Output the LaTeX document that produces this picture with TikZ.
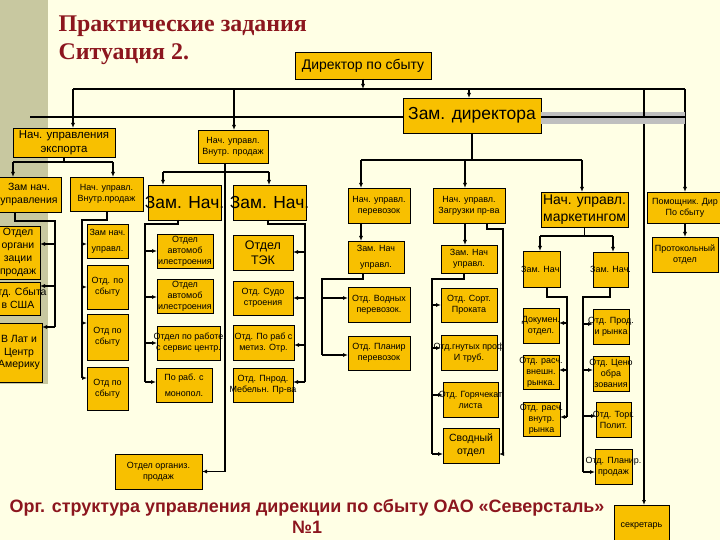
\documentclass[tikz,border=0pt]{standalone}
\usepackage{fontspec}
\setmainfont{Liberation Sans}
\newfontfamily\titlefont{Liberation Serif}
\usetikzlibrary{arrows.meta}

\definecolor{gold}{RGB}{248,192,0}
\definecolor{cream}{RGB}{255,255,229}
\definecolor{olive}{RGB}{200,200,160}
\definecolor{wine}{RGB}{140,22,30}

% box from corner (x1,y1) to (x2,y2), text in the middle
\newcommand\orgbox[7][]{%
  \node[unit,minimum width={(#5-(#3))*1bp},minimum height={(#6-(#4))*1bp}]
    (#2) at ({(#3+#5)/2},{(#4+#6)/2}) {};
  \node[txt,#1] (#2-t) at (#2) {#7};}

\begin{document}
\begin{tikzpicture}
  [x=1bp,y=-1bp,line width=1.1bp,
   unit/.style={draw,fill=gold,line width=.7bp,inner sep=0pt,outer sep=0pt},
   txt/.style={align=center,inner sep=0pt,font=\fontsize{9}{11}\selectfont},
   f10/.style={font=\fontsize{10.5}{13}\selectfont},
   f11/.style={font=\fontsize{11.5}{14}\selectfont},
   f12/.style={font=\fontsize{12.5}{15}\selectfont},
   f14/.style={font=\fontsize{14}{17}\selectfont},
   f17/.style={font=\fontsize{17.5}{20}\selectfont},
   ttl/.style={inner sep=0pt,text=wine,font=\titlefont\bfseries\fontsize{24}{30}\selectfont},
   capt/.style={inner sep=0pt,text=wine,font=\bfseries\fontsize{18}{21}\selectfont},
   arr/.style={-{Latex[length=5bp,width=4bp]}}]

  \useasboundingbox (0,0) rectangle (720,540);
  \clip (0,0) rectangle (720,540);
  \fill[cream] (0,0) rectangle (720,540);
  \fill[olive] (0,0) rectangle (48,384);

  \node[ttl,anchor=base west] (t1) at (58,32) {Практические задания};
  \node[ttl,anchor=base west] (t2) at (58,60) {Ситуация 2.};

  % top level
  \orgbox[f14]{dir}{295}{52}{431}{79}{Директор по сбыту}
  \orgbox[f17]{zd}{403}{98}{541}{133}{Зам. директора}
  \orgbox[f11]{exp}{13}{128}{115}{157}{Нач. управления\\экспорта}
  \orgbox{nvp}{198}{130}{268}{163}{Нач. управл.\\Внутр. продаж}
  \orgbox{per}{348}{188}{410}{223}{Нач. управл.\\перевозок}
  \orgbox{zag}{433}{188}{505}{223}{Нач. управл.\\Загрузки пр-ва}
  \orgbox[f14]{mkt}{541}{192}{628}{227}{Нач. управл.\\маркетингом}
  \orgbox{pom}{647}{192}{723}{223}{Помощник. Дир\\По сбыту}
  \orgbox{prot}{652}{237}{718}{272}{Протокольный\\отдел}
  \orgbox{sec}{614}{505}{669}{548}{секретарь}

  % export
  \orgbox[f10]{zamL}{-3}{177}{61}{212}{Зам нач.\\управления}
  \orgbox[f10]{org1}{-4}{226}{40}{279}{Отдел\\органи\\зации\\продаж}
  \orgbox[f10]{sb}{-4}{282}{40}{315}{Отд. Сбыта\\в США}
  \orgbox[f10]{la}{-4}{323}{42}{382}{В Лат и\\Центр\\Америку}
  \orgbox{nvp2}{70}{177}{143}{211}{Нач. управл.\\Внутр.продаж}
  \orgbox{zn0}{87}{224}{128}{258}{Зам нач.\\[5bp]управл.}
  \orgbox{s1}{87}{265}{128}{309}{Отд. по\\сбыту}
  \orgbox{s2}{87}{314}{128}{360}{Отд по\\сбыту}
  \orgbox{s3}{87}{367}{128}{410}{Отд по\\сбыту}

  % internal sales
  \orgbox[f17]{zn1}{148}{185}{221}{220}{Зам. Нач.}
  \orgbox[f17]{zn2}{233}{185}{306}{220}{Зам. Нач.}
  \orgbox{a1}{157}{234}{213}{268}{Отдел\\автомоб\\илестроения}
  \orgbox{a2}{157}{279}{213}{313}{Отдел\\автомоб\\илестроения}
  \orgbox{a3}{157}{326}{220}{360}{Отдел по работе\\с сервис центр.}
  \orgbox{a4}{156}{368}{212}{402}{По раб. с\\[5bp]монопол.}
  \orgbox[f12]{t1}{233}{235}{293}{270}{Отдел\\ТЭК}
  \orgbox{t2}{233}{281}{293}{315}{Отд. Судо\\строения}
  \orgbox{t3}{233}{325}{294}{360}{Отд. По раб с\\метиз. Отр.}
  \orgbox{t4}{233}{368}{293}{402}{Отд. Пнрод.\\Мебельн. Пр-ва}
  \orgbox{org2}{115}{454}{202}{489}{Отдел организ.\\продаж}

  % transport
  \orgbox{pz}{348}{241}{404}{273}{Зам. Нач\\[5bp]управл.}
  \orgbox{pw}{348}{287}{410}{322}{Отд. Водных\\перевозок.}
  \orgbox{pp}{348}{336}{410}{370}{Отд. Планир\\перевозок}

  % loading
  \orgbox{gz}{441}{245}{497}{273}{Зам. Нач\\управл.}
  \orgbox{g1}{441}{288}{497}{322}{Отд. Сорт.\\Проката}
  \orgbox{g2}{441}{335}{497}{370}{Отд.гнутых проф\\И труб.}
  \orgbox{g3}{443}{382}{498}{417}{Отд. Горячекат\\листа}
  \orgbox[f10]{g4}{443}{428}{499}{463}{Сводный\\отдел}

  % marketing
  \orgbox{mz1}{523}{251}{560}{287}{Зам. Нач.}
  \orgbox{mz2}{593}{252}{628}{287}{Зам. Нач.}
  \orgbox{m1}{523}{308}{559}{343}{Докумен.\\отдел.}
  \orgbox{m2}{523}{355}{559}{389}{Отд. расч.\\внешн.\\рынка.}
  \orgbox{m3}{523}{402}{560}{436}{Отд. расч.\\внутр.\\рынка}
  \orgbox{m4}{593}{309}{629}{344}{Отд. Прод.\\и рынка}
  \orgbox{m5}{593}{356}{629}{391}{Отд. Цено\\обра\\зования}
  \orgbox{m6}{596}{402}{631}{437}{Отд. Торг.\\Полит.}
  \orgbox{m7}{595}{449}{632}{484}{Отд. Планир.\\продаж}

  \node[capt,anchor=base] (c1) at (307,512)
    {Орг. структура управления дирекции по сбыту ОАО «Северсталь»};
  \node[capt,anchor=base] (c2) at (307,533) {№1};

  % director lines
  \coordinate (dbus) at (73,89);
  \coordinate (dend) at (685,89);
  \draw[line width=1.4bp] (dbus) -- (dend);
  \draw[arr] (dir.south) -- (dir.south |- dbus);
  \foreach \x/\n in {73/exp,234/nvp,469/zd}
    \draw[arr] (dbus -| \x,0) -- (\n.north -| \x,0);
  \draw[arr,line width=1.6bp] (dbus -| 644,0) -- (sec.north -| 644,0);
  \draw[arr,line width=1.6bp] (dend) -- (pom.north);
  \draw[arr] (pom.south) -- (prot.north);

  \coordinate (zbus) at (30,117);
  \coordinate (zend) at (685,117);
  \draw[line width=12bp,gray!50] (zd.east |- 0,118) -- (zend |- 0,118);
  \draw[line width=2.6bp] (zbus) -- (zd.west |- zbus);
  \draw[line width=2.6bp] (zd.east |- zend) -- (zend);
  \draw[line width=1.6bp] (dbus -| 644,0) -- (zend -| 644,0);

  \coordinate (zbus2) at (361,160);
  \draw (zd.south) -- (zd.south |- zbus2);
  \draw (zbus2) -- (zbus2 -| 582,0);
  \foreach \x/\n in {361/per,465/zag,582/mkt}
    \draw[arr] (zbus2 -| \x,0) -- (\n.north -| \x,0);

  % internal sales lines
  \coordinate (vbus) at (163,172);
  \draw (vbus) -- (vbus -| 269,0);
  \draw[arr,line width=1.6bp] (nvp.south -| 225,0) |- (org2.east);
  \draw[arr] (vbus) -- (zn1.north -| vbus);
  \draw[arr] (vbus -| 269,0) -- (zn2.north -| 269,0);

  \coordinate (abus) at (145,224);
  \draw (zn1.south -| 178,0) |- (abus) -- (abus |- 0,382);
  \foreach \n/\y in {a1/251,a2/297,a3/343,a4/382}
    \draw[arr] (abus |- 0,\y) -- (\n.west |- 0,\y);

  \coordinate (tbus) at (305,224);
  \draw (zn2.south -| 268,0) |- (tbus) -- (tbus |- 0,382);
  \foreach \n/\y in {t1/252,t2/298,t3/345,t4/382}
    \draw[arr] (tbus |- 0,\y) -- (\n.east |- 0,\y);

  % export lines
  \coordinate (ebus) at (13,162);
  \draw (exp.south) -- (exp.south |- ebus);
  \draw (ebus) -- (ebus -| 113,0);
  \draw[arr] (ebus) -- (zamL.north -| ebus);
  \draw[arr] (ebus -| 113,0) -- (nvp2.north -| 113,0);

  \coordinate (lbus) at (55,221);
  \draw (zamL.south -| 15,0) |- (lbus) -- (lbus |- 0,327);
  \foreach \n/\y in {org1/244,sb/286,la/327}
    \draw[arr] (lbus |- 0,\y) -- (\n.east |- 0,\y);

  \coordinate (sbus) at (82,220);
  \draw (nvp2.south -| 107,0) |- (sbus) -- (sbus |- 0,378);
  \foreach \n/\y in {zn0/244,s1/287,s2/323,s3/378}
    \draw[arr] (sbus |- 0,\y) -- (\n.west |- 0,\y);

  % transport lines
  \draw[arr] (per.south -| 361,0) -- (pz.north -| 361,0);
  \coordinate (pbus) at (322,279);
  \draw (pz.south -| 363,0) |- (pbus) -- (pbus |- 0,355);
  \foreach \n/\y in {pw/298,pp/355}
    \draw[arr] (pbus |- 0,\y) -- (\n.west |- 0,\y);

  % loading lines
  \draw[arr] (zag.south -| 465,0) -- (gz.north -| 465,0);
  \coordinate (gbus) at (432,279);
  \draw (gz.south -| 464,0) |- (gbus) -- (gbus |- 0,454);
  \foreach \n/\y in {g1/305,g2/348,g3/395,g4/454}
    \draw[arr] (gbus |- 0,\y) -- (\n.west |- 0,\y);
  \draw[arr] (zag.south -| 487,0) |- (503,229) |- (g4.east |- 0,454);

  % marketing lines
  \coordinate (mbus) at (540,236);
  \draw (mkt.south) -- (mkt.south |- mbus);
  \draw (mbus) -- (mbus -| 613,0);
  \draw[arr] (mbus) -- (mz1.north -| mbus);
  \draw[arr] (mbus -| 613,0) -- (mz2.north -| 613,0);

  \coordinate (mlbus) at (567,297);
  \draw (mz1.south -| 547,0) |- (mlbus) -- (mlbus |- 0,417);
  \foreach \n/\y in {m1/323,m2/370,m3/417}
    \draw[arr] (mlbus |- 0,\y) -- (\n.east |- 0,\y);

  \coordinate (mrbus) at (583,297);
  \draw (mz2.south -| 610,0) |- (mrbus) -- (mrbus |- 0,472);
  \foreach \n/\y in {m4/324,m5/370,m6/416,m7/472}
    \draw[arr] (mrbus |- 0,\y) -- (\n.west |- 0,\y);

\end{tikzpicture}
\end{document}
